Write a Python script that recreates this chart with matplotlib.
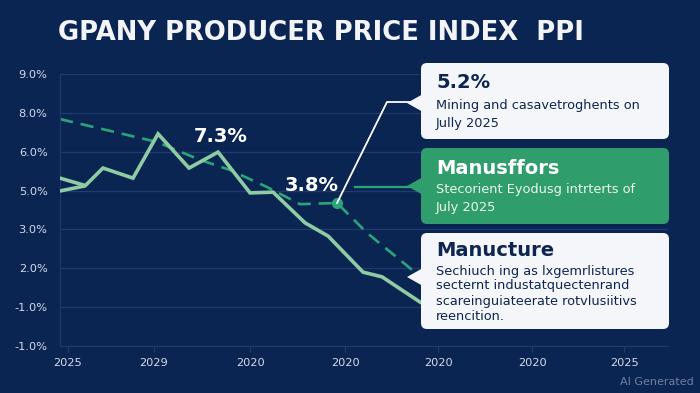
import matplotlib
matplotlib.use("Agg")
import matplotlib.pyplot as plt
from matplotlib.patches import FancyBboxPatch, Polygon

# x in tick-index units, y in gridline-index units (labels are as printed)
x_labels = ['2025', '2029', '2020', '2020', '2020', '2020', '2025']
x_ticks = [0, 0.92, 1.96, 2.98, 3.98, 4.99, 5.98]
y_labels = ['-1.0%', '-1.0%', '2.0%', '3.0%', '5.0%', '6.0%', '8.0%', '9.0%']

main_x = [-0.086, 0.183, 0.376, 0.699, 0.968, 1.301, 1.613, 1.957, 2.204,
          2.548, 2.796, 3.172, 3.376, 3.785]
main_y = [3.99, 4.12, 4.58, 4.32, 5.46, 4.58, 4.99, 3.94, 3.96,
          3.17, 2.83, 1.90, 1.78, 1.13]

stub_x = [-0.086, 0.172]
stub_y = [4.32, 4.14]

trend_x = [-0.086, 0.957, 1.419, 1.742, 2.140, 2.495, 2.892, 3.215, 3.699]
trend_y = [5.84, 5.25, 4.79, 4.53, 4.09, 3.65, 3.68, 2.91, 1.96]
marker_idx = 6

BG = '#0b2553'
GRID = '#1d3b6d'
SOLID = '#8fcca3'
DASH = '#2aa57a'
NAVY = '#0d2550'
GREEN_BOX = '#2f9e6c'

fig = plt.figure(figsize=(7, 3.93), dpi=100, facecolor=BG)
ax = fig.add_axes([60 / 700, 47 / 393, 608 / 700, 272 / 393])
ax.set_facecolor(BG)

ax.plot(main_x, main_y, color=SOLID, lw=2.6, solid_joinstyle='miter', zorder=3)
ax.plot(stub_x, stub_y, color=SOLID, lw=2.6, zorder=3)
ax.plot(trend_x, trend_y, color=DASH, lw=1.9, dashes=(5, 3), zorder=2)
ax.plot([trend_x[marker_idx]], [trend_y[marker_idx]], 'o', color=DASH, ms=7, zorder=4)

ax.set_xlim(-0.086, 6.45)
ax.set_ylim(0, 7)
ax.set_yticks(range(len(y_labels)))
ax.set_yticklabels(y_labels)
ax.set_xticks(x_ticks)
ax.set_xticklabels(x_labels)
ax.tick_params(axis='y', length=0, pad=9, labelsize=8.2, labelcolor='#d3dbea')
ax.tick_params(axis='x', length=4, width=0.8, color=GRID, pad=5,
               labelsize=8.2, labelcolor='#d3dbea')
ax.grid(axis='y', color=GRID, lw=0.9)
for s in ['top', 'right']:
    ax.spines[s].set_visible(False)
ax.spines['left'].set_color(GRID)
ax.spines['bottom'].set_color(GRID)

ax.annotate('7.3%', (1.645, 5.38), color='white', fontsize=14, fontweight='bold',
            ha='center', va='center', zorder=5)
ax.annotate('3.8%', (2.62, 4.12), color='white', fontsize=14, fontweight='bold',
            ha='center', va='center', zorder=5)

# overlay in figure pixels for callout boxes
ov = fig.add_axes([0, 0, 1, 1], facecolor='none')
ov.set_xlim(0, 700)
ov.set_ylim(393, 0)
ov.axis('off')

fig.text(58 / 700, 1 - 33 / 393, 'GPANY PRODUCER PRICE INDEX  PPI', color='#f2f4f8',
         fontsize=18.6, fontweight='bold', ha='left', va='center')

# connector from marker to the first box
dx, dy = ax.transData.transform((trend_x[marker_idx], trend_y[marker_idx]))
ov.plot([dx, 387, 412], [393 - dy, 102, 102], color='white', lw=1.3, zorder=1)
ov.plot([355, 412], [187, 187], color=DASH, lw=1.6, zorder=1)


def callout(y0, y1, tip_y, face):
    box = FancyBboxPatch((421, y0), 248, y1 - y0, boxstyle='round,pad=0,rounding_size=6',
                         fc=face, ec='none', zorder=2)
    ov.add_patch(box)
    ov.add_patch(Polygon([[407, tip_y], [423, tip_y - 9], [423, tip_y + 9]],
                         closed=True, fc=face, ec='none', zorder=2))


callout(63, 139, 103, '#f4f6fa')
callout(148, 224, 186, GREEN_BOX)
callout(233, 329, 277, '#f4f6fa')

def lines(x, ys, texts, color, size, weight='normal'):
    for y, t in zip(ys, texts):
        ov.text(x, y, t, color=color, fontsize=size, fontweight=weight,
                ha='left', va='center', zorder=3)

lines(436, [83], ['5.2%'], NAVY, 14, 'bold')
lines(436, [106, 123], ['Mining and casavetroghents on', 'Jully 2025'], NAVY, 9.3)
lines(436, [168], ['Manusffors'], 'white', 14, 'bold')
lines(436, [190, 208], ['Stecorient Eyodusg intrterts of', 'July 2025'], '#eef6f1', 9.3)
lines(436, [250], ['Manucture'], NAVY, 14, 'bold')
lines(436, [271, 286, 301, 317],
      ['Sechiuch ing as lxgemrlistures', 'secternt industatquectenrand',
       'scareinguiateerate rotvlusiitivs', 'reencition.'], NAVY, 9.3)

fig.text(694 / 700, 1 - 382 / 393, 'AI Generated', color='#6f80a3', fontsize=8,
         ha='right', va='center')

fig.savefig('out.png', dpi=100, facecolor=BG)
